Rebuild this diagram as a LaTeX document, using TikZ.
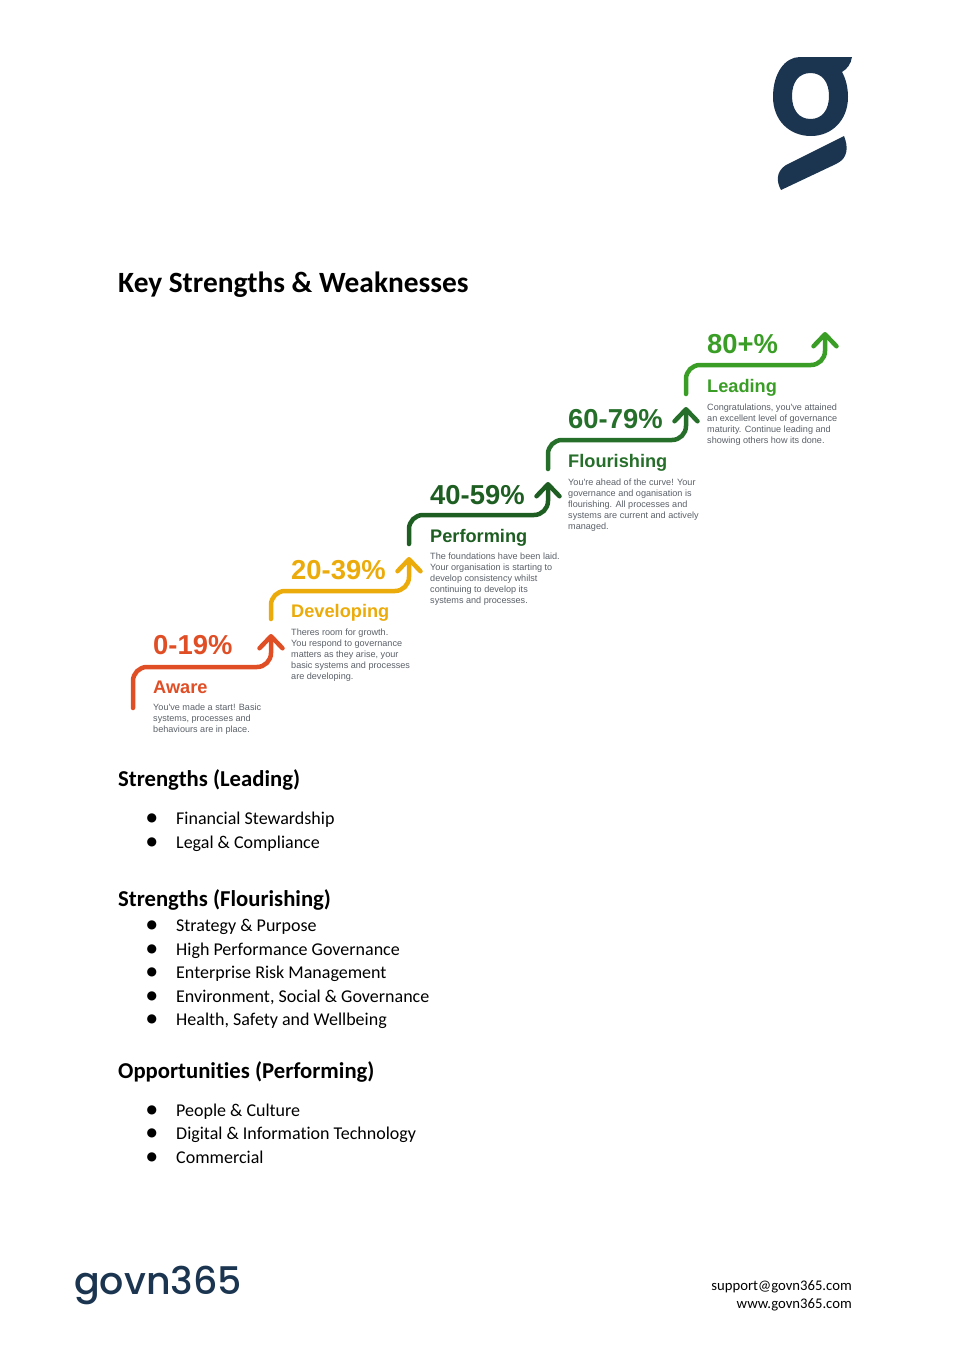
\documentclass[tikz,border=0pt]{standalone}
\usepackage{fontspec}
\setmainfont[Ligatures=CommonOff]{Carlito}
\newfontfamily\stepfont{Liberation Sans}
\newfontfamily\logofont{Poppins Medium}
\newfontfamily\dotfont{DejaVu Sans}
\usetikzlibrary{arrows.meta, positioning}
\definecolor{navy}{HTML}{1B3550}
\definecolor{aware}{HTML}{E04E26}
\definecolor{developing}{HTML}{EBAB0B}
\definecolor{performing}{HTML}{1E5E22}
\definecolor{flourishing}{HTML}{266F2A}
\definecolor{leading}{HTML}{3A9E26}
\definecolor{blurbgrey}{HTML}{5A6068}
\newcommand{\itemdot}{\llap{\raisebox{3pt}{\dotfont\fontsize{12}{14}\selectfont ●}\hspace{19pt}}}

\begin{document}
\begin{tikzpicture}[x=1pt,y=-1pt,>={Straight Barb[round,length=12pt,width=23pt,line width=4.5pt]},
    stepline/.style={->,line width=4.5pt,rounded corners=14pt,line cap=round},
    percent/.style={anchor=base west,inner sep=0pt,font=\stepfont\bfseries\fontsize{27.4}{30}\selectfont},
    stage/.style={anchor=base west,inner sep=0pt,font=\stepfont\bfseries\fontsize{18.2}{21}\selectfont},
    blurb/.style={anchor=base west,inner sep=0pt,align=left,text=blurbgrey,font=\stepfont\fontsize{9.1}{11}\selectfont},
    heading/.style={anchor=base west,inner sep=0pt,font=\bfseries\fontsize{22.7}{26}\selectfont},
    listitem/.style={anchor=base west,inner sep=0pt,font=\fontsize{18}{22}\selectfont,execute at begin node=\itemdot},
    contact/.style={anchor=base east,inner sep=0pt,font=\fontsize{14.7}{18}\selectfont}]
  \useasboundingbox (0,0) rectangle (968,1368);

  % logo top right
  \fill[navy,even odd rule] (800,57) -- (852,57) .. controls (851,64) and (847,69) .. (842,72)
      .. controls (846,79) and (848,88) .. (848,97) .. controls (848,120) and (832,136) .. (811,136)
      .. controls (789,136) and (773,120) .. (773,97) .. controls (773,73) and (785,57) .. (800,57) -- cycle
      (810.5,73) .. controls (799,73) and (792,82) .. (792,96) .. controls (792,110) and (799,119) .. (810.5,119)
      .. controls (822,119) and (829,110) .. (829,96) .. controls (829,82) and (822,73) .. (810.5,73) -- cycle;
  \fill[navy] (844,136) .. controls (848,146) and (849,158) .. (836,164) -- (781,190)
      .. controls (777,183) and (775,172) .. (786,165) -- cycle;

  \node[anchor=base west,inner sep=0pt,font=\bfseries\fontsize{29.4}{34}\selectfont] (title) at (118,292) {Key Strengths \& Weaknesses};

  % the five steps
  \coordinate (a1) at (133,708);
  \coordinate (a2) at (271,634);
  \coordinate (d1) at (271,619);
  \coordinate (d2) at (409,557);
  \coordinate (p1) at (409,544);
  \coordinate (p2) at (548,482);
  \coordinate (f1) at (548,469);
  \coordinate (f2) at (686,407);
  \coordinate (l1) at (686,394);
  \coordinate (l2) at (825,332);

  \draw[stepline,aware] (a1) -- (133,667) -- (271,667) -- (a2);
  \draw[stepline,developing] (d1) -- (271,591) -- (409,591) -- (d2);
  \draw[stepline,performing] (p1) -- (409,515) -- (548,515) -- (p2);
  \draw[stepline,flourishing] (f1) -- (548,440) -- (686,440) -- (f2);
  \draw[stepline,leading] (l1) -- (686,365) -- (825,365) -- (l2);

  \node[percent,aware] (awarepc) at (153,654) {0-19\%};
  \node[stage,aware] (awarename) at (153,693) {Aware};
  \node[blurb] (awaretxt) at (153,732) {You've made a start! Basic\\systems, processes and\\behaviours are in place.};

  \node[percent,developing] (devpc) at (291,579) {20-39\%};
  \node[stage,developing] (devname) at (291,617) {Developing};
  \node[blurb] (devtxt) at (291,679) {Theres room for growth.\\You respond to governance\\matters as they arise, your\\basic systems and processes\\are developing.};

  \node[percent,performing] (perfpc) at (430,504) {40-59\%};
  \node[stage,performing] (perfname) at (430,542) {Performing};
  \node[blurb] (perftxt) at (430,603) {The foundations have been laid.\\Your organisation is starting to\\develop consistency whilst\\continuing to develop its\\systems and processes.};

  \node[percent,flourishing] (flourpc) at (568,428) {60-79\%};
  \node[stage,flourishing] (flourname) at (568,467) {Flourishing};
  \node[blurb] (flourtxt) at (568,529) {You're ahead of the curve! Your\\governance and oganisation is\\flourishing. All processes and\\systems are current and actively\\managed.};

  \node[percent,leading] (leadpc) at (707,353) {80+\%};
  \node[stage,leading] (leadname) at (707,392) {Leading};
  \node[blurb] (leadtxt) at (707,443) {Congratulations, you've attained\\an excellent level of governance\\maturity. Continue leading and\\showing others how its done.};

  % lists
  \node[heading] (h1) at (118,786) {Strengths (Leading)};
  \node[listitem] (i1) at (176,824) {Financial Stewardship};
  \node[listitem] (i2) at (176,848) {Legal \& Compliance};

  \node[heading] (h2) at (118,906) {Strengths (Flourishing)};
  \node[listitem] (i3) at (176,931) {Strategy \& Purpose};
  \node[listitem] (i4) at (176,955) {High Performance Governance};
  \node[listitem] (i5) at (176,978) {Enterprise Risk Management};
  \node[listitem] (i6) at (176,1002) {Environment, Social \& Governance};
  \node[listitem] (i7) at (176,1025) {Health, Safety and Wellbeing};

  \node[heading] (h3) at (118,1078) {Opportunities (Performing)};
  \node[listitem] (i8) at (176,1116) {People \& Culture};
  \node[listitem] (i9) at (176,1139) {Digital \& Information Technology};
  \node[listitem] (i10) at (176,1163) {Commercial};

  % footer
  \node[anchor=base west,inner sep=0pt,text=navy,font=\logofont\fontsize{38}{42}\selectfont] (brand) at (74,1294) {govn365};
  \node[contact] (mail) at (852,1290) {support@govn365.com};
  \node[contact] (web) at (852,1308) {www.govn365.com};
\end{tikzpicture}
\end{document}
